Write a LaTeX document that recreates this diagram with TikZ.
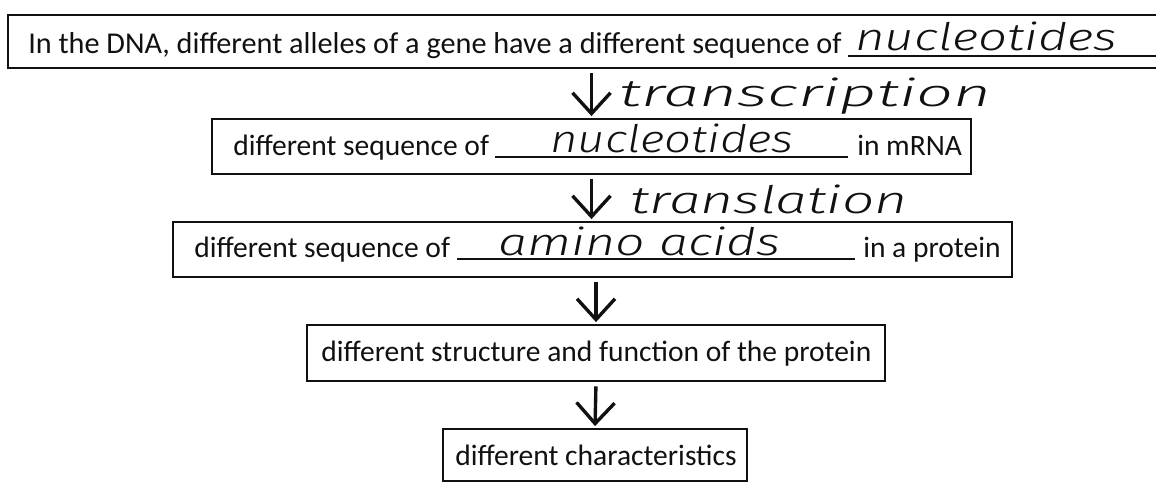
\documentclass[tikz,border=0pt]{standalone}
\usepackage{fontspec}
\setmainfont{Carlito}
\newfontfamily\hand{Fira Sans Light Italic}
\usetikzlibrary{arrows.meta,positioning,fit}
\definecolor{ink}{HTML}{111111}
\tikzset{
  stepbox/.style={draw=ink,line width=1.3pt,inner sep=0pt},
  printed/.style={anchor=base west,inner sep=0pt,
                  font=\fontsize{21}{25}\selectfont,text=ink},
  written/.style={anchor=base west,inner sep=0pt,
                  font=\fontsize{27}{31}\hand,text=ink},
  blank/.style={line width=1.1pt,ink},
  flowarr/.style={-{Straight Barb[length=0.52cm,width=0.95cm,line width=2.4pt]},
                  line width=2.4pt,ink,shorten <=0.11cm,shorten >=0.05cm}
}
\newcommand{\scrawl}[2]{\resizebox{#1}{\height}{#2}}

\begin{document}
\begin{tikzpicture}[x=0.025cm,y=-0.025cm]
  \useasboundingbox (0,0) rectangle (1156,483);

  % the five boxes
  \node[stepbox,fit={(8,15) (1175,68)}] (dna) {};
  \node[stepbox,fit={(212,119) (971,174)}] (mrna) {};
  \node[stepbox,fit={(173,222) (1012,277)}] (prot) {};
  \node[stepbox,fit={(307,325) (885,381)}] (fold) {};
  \node[stepbox,fit={(443,429) (747,481)}] (trait) {};

  % DNA line
  \node[printed,font=\fontsize{21.5}{25}\selectfont] (dnatxt) at (28,53)
    {In the DNA, different alleles of a gene have a different sequence of};
  \draw[blank] (dnatxt.base east) ++(6,3) -- (1175,56);
  \node[written] (dnaans) at (855,50) {\scrawl{6.55cm}{nucleotides}};

  % mRNA line
  \node[printed] (mrnatxt) at (233,155) {different sequence of};
  \draw[blank] (495,157) -- (848,157);
  \node[written] (mrnaans) at (550,152) {\scrawl{6.08cm}{nucleotides}};
  \node[printed] (mrnaend) at (857,155) {in mRNA};

  % protein line
  \node[printed] (prottxt) at (194,257) {different sequence of};
  \draw[blank] (457,259) -- (855,259);
  \node[written] (protans) at (498,255) {\scrawl{7.05cm}{amino acids}};
  \node[printed] (protend) at (863,257) {in a protein};

  \node[printed] (foldtxt) at (321,361)
    {different structure and function of the protein};
  \node[printed] (traittxt) at (455,465) {different characteristics};

  % arrows with their steps
  \draw[flowarr] (dna.south -| mrna.north) -- (mrna.north);
  \node[written] (transc) at (619,106) {\scrawl{9.3cm}{transcription}};
  \draw[flowarr] (mrna.south) -- (mrna.south |- prot.north);
  \node[written] (transl) at (630,213) {\scrawl{6.93cm}{translation}};
  \draw[flowarr] (fold.north |- prot.south) -- (fold.north);
  \draw[flowarr] (fold.south) -- (trait.north);
\end{tikzpicture}
\end{document}
